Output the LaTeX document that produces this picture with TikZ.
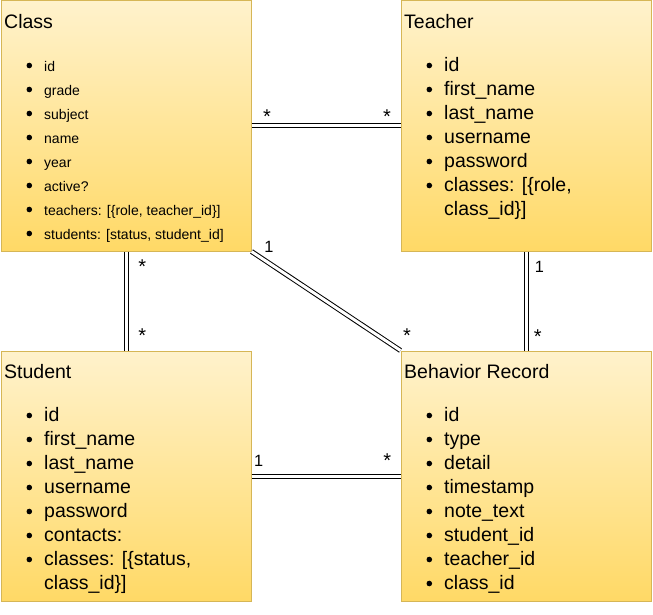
\documentclass[tikz,border=0pt]{standalone}
\usepackage{fontspec}
\setmainfont{Liberation Sans}
\definecolor{notefill}{HTML}{FFF2CC}
\definecolor{noteshade}{HTML}{FFD966}
\definecolor{noteline}{HTML}{D6B656}
\tikzset{
  entity/.style={rectangle, draw=noteline, line width=1pt, top color=notefill,
    bottom color=noteshade, minimum width=250pt, minimum height=250pt, inner sep=0pt},
  entname/.style={anchor=base west, inner sep=0pt, font=\fontsize{19.5}{24}\selectfont},
  attr/.style={anchor=base west, inner sep=0pt, font=\fontsize{19.5}{24}\selectfont},
  smallattr/.style={attr, font=\fontsize{14}{24}\selectfont},
  rel/.style={draw=black, line width=1pt, double=white, double distance=3pt},
  card/.style={anchor=base, inner sep=0pt, font=\fontsize{16.3}{20}\selectfont},
  many/.style={card, font=\fontsize{20}{24}\selectfont},
}
\begin{document}
\begin{tikzpicture}[x=1pt, y=-1pt]
\useasboundingbox (0,0) rectangle (653,615);
% entities
\node[entity] (class) at (126,126) {};
\node[entity] (teacher) at (526,126) {};
\node[entity] (student) at (126,476) {};
\node[entity] (record) at (526,476) {};
% names
\node[entname] (class-name) at (4,28.3) {Class};
\node[entname] (teacher-name) at (404,28.3) {Teacher};
\node[entname] (student-name) at (4,378.3) {Student};
\node[entname] (record-name) at (404,378.3) {Behavior Record};
% attributes
\foreach \txt [count=\i from 0] in {id, grade, subject, name, year, active?,
    {teachers: [\{role, teacher\_id\}]}, {students: [status, student\_id]}}
  \node[smallattr] (class-\i) at (44,{71.7+24*\i}) {\txt};
\foreach \txt [count=\i from 0] in {id, first\_name, last\_name, username,
    password, {classes: [\{role,}, class\_id\}]}
  \node[attr] (teacher-\i) at (444,{71.7+24*\i}) {\txt};
\foreach \txt [count=\i from 0] in {id, first\_name, last\_name, username,
    password, contacts:, {classes: [\{status,}, class\_id\}]}
  \node[attr] (student-\i) at (44,{421.7+24*\i}) {\txt};
\foreach \txt [count=\i from 0] in {id, type, detail, timestamp, note\_text,
    student\_id, teacher\_id, class\_id}
  \node[attr] (record-\i) at (444,{421.7+24*\i}) {\txt};
% bullets
\foreach \i in {0,...,7} \fill (29.3,{65.5+24*\i}) circle[radius=2.8pt];
\foreach \i in {0,...,5} \fill (429.3,{65.5+24*\i}) circle[radius=2.8pt];
\foreach \i in {0,...,6} \fill (29.3,{415.5+24*\i}) circle[radius=2.8pt];
\foreach \i in {0,...,7} \fill (429.3,{415.5+24*\i}) circle[radius=2.8pt];
% relations
\draw[rel] (class) -- (teacher);
\draw[rel] (class) -- (student);
\draw[rel] (teacher) -- (record);
\draw[rel] (student) -- (record);
\draw[rel] (class.south east) -- (record.north west);
% cardinalities
\node[many] (ct-a) at (267,123.5) {*};
\node[many] (ct-b) at (387,123.5) {*};
\node[many] (cs-a) at (142.3,273.2) {*};
\node[many] (cs-b) at (142.3,342.8) {*};
\node[card] (cr-a) at (268.8,252) {1};
\node[many] (cr-b) at (407,342.5) {*};
\node[card] (tr-a) at (539.3,272) {1};
\node[many] (tr-b) at (537.7,343.2) {*};
\node[card] (sr-a) at (258.7,466.7) {1};
\node[many] (sr-b) at (387.3,467.5) {*};
\end{tikzpicture}
\end{document}
